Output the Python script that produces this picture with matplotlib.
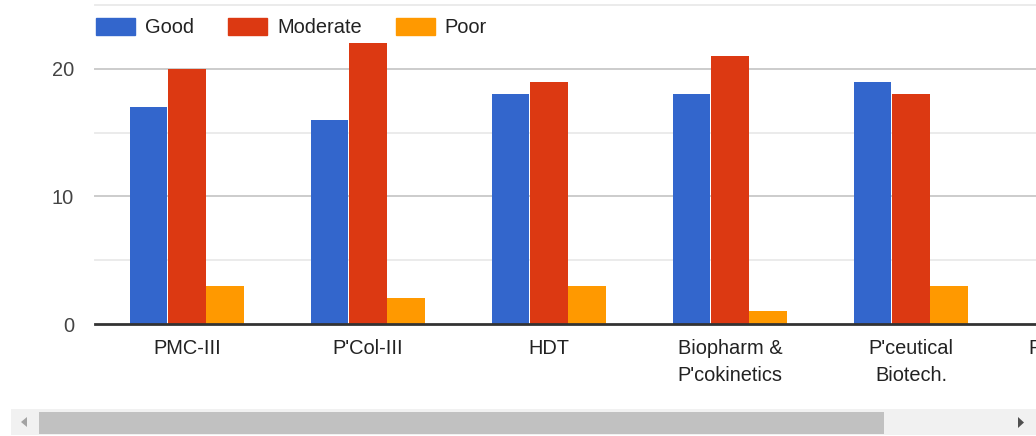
import matplotlib.pyplot as plt
import numpy as np
from matplotlib.patches import Rectangle, Polygon

categories = ["PMC-III", "P'Col-III", "HDT", "Biopharm &\nP'cokinetics",
              "P'ceutical\nBiotech.", "Pharmacology"]
good = [17, 16, 18, 18, 19, np.nan]
moderate = [20, 22, 19, 21, 18, np.nan]
poor = [3, 2, 3, 1, 3, np.nan]

series = [("Good", good, "#3366cc"),
          ("Moderate", moderate, "#dc3912"),
          ("Poor", poor, "#ff9900")]

plt.rcParams['font.family'] = ['Liberation Sans', 'DejaVu Sans']
FS = 14.4

W, H = 1036, 436
fig = plt.figure(figsize=(W / 100, H / 100), dpi=100)

# chart is wider than the visible window (scrolled), so the axes run past the right edge
x0, x1 = -0.508, 5.5
px_per = 181.0
left_px = 95
right_px = left_px + (x1 - x0) * px_per
top_px, base_px = 5, 324
ax = fig.add_axes([left_px / W, (H - base_px) / H,
                   (right_px - left_px) / W, (base_px - top_px) / H])

x = np.arange(len(categories))
bw = 0.205
step = 0.21
for i, (name, vals, col) in enumerate(series):
    ax.bar(x + (i - 1) * step, vals, width=bw, color=col, linewidth=0,
           zorder=3, label=name)

ax.set_xlim(x0, x1)
ax.set_ylim(0, 25)

# gridlines
for v in [5, 15, 25]:
    ax.axhline(v, color="#ebebeb", lw=1.4, zorder=1, clip_on=False)
for v in [10, 20]:
    ax.axhline(v, color="#cccccc", lw=1.4, zorder=1, clip_on=False)
ax.axhline(0, color="#333333", lw=2, zorder=4, clip_on=False)

for s in ax.spines.values():
    s.set_visible(False)

ax.set_yticks([0, 10, 20])
ax.set_yticklabels(["0", "10", "20"])
ax.tick_params(axis="y", length=0, pad=15, labelsize=FS, labelcolor="#444444")
ax.set_xticks(x)
ax.set_xticklabels(categories, linespacing=1.5)
ax.tick_params(axis="x", length=0, pad=11, labelsize=FS, labelcolor="#222222")

handles = [Rectangle((0, 0), 1, 1, color=c) for _, _, c in series]
fig.legend(handles, [n for n, _, _ in series], loc="upper left",
           bbox_to_anchor=(96 / W, 1 - 18 / H), ncol=3, frameon=False,
           fontsize=FS, handlelength=1.95, handleheight=0.9,
           handletextpad=0.5, columnspacing=1.7, borderpad=0,
           borderaxespad=0, labelcolor="#222222")

# horizontal scrollbar under the chart
sb = fig.add_axes([0, 0, 1, 1], zorder=-1)
sb.set_xlim(0, W)
sb.set_ylim(H, 0)
sb.axis("off")
sb.add_patch(Rectangle((11, 409), W - 11, 26, color="#f1f1f1", lw=0))
sb.add_patch(Rectangle((39, 412), 845, 22, color="#c1c1c1", lw=0))
sb.add_patch(Polygon([[21, 422], [27, 417], [27, 427]], closed=True,
                     color="#a3a3a3", lw=0))
sb.add_patch(Polygon([[1024, 422.5], [1018, 417], [1018, 428]], closed=True,
                     color="#505050", lw=0))

fig.savefig("out.png", dpi=100)
